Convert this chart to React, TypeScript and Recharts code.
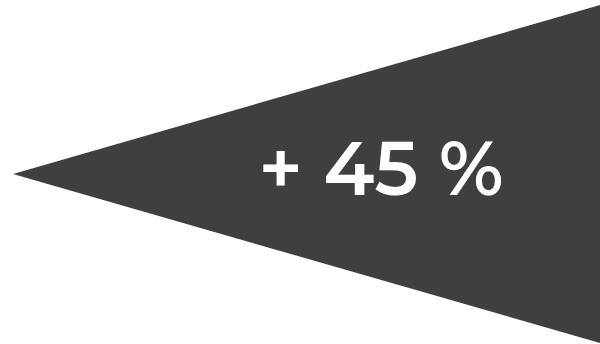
import React from "react";
import { AreaChart, Area, XAxis, YAxis } from "recharts";

const positions = [0, 1];
const lows = [0, -1];
const highs = [0, 1];
const labelText = "+ 45 %";

const data = positions.map((x, i) => ({ x, range: [lows[i], highs[i]] }));

export default function App() {
  return (
    <div style={{ position: "absolute", left: 0, top: 0, width: 600, height: 344 }}>
      <AreaChart width={600} height={344} data={data} margin={{ top: 5, right: 0, bottom: 1, left: 13 }}>
        <XAxis type="number" dataKey="x" domain={[0, 1]} hide />
        <YAxis type="number" domain={[-1, 1]} hide />
        <Area
          type="linear"
          dataKey="range"
          stroke="none"
          fill="#3f3f3f"
          fillOpacity={1}
          isAnimationActive={false}
          dot={false}
          activeDot={false}
        />
      </AreaChart>
      <div
        style={{
          position: "absolute",
          left: 381,
          top: 168,
          transform: "translate(-50%, -50%)",
          color: "#ffffff",
          fontFamily: "Montserrat, 'Open Sans', sans-serif",
          fontWeight: 600,
          fontSize: 75,
          lineHeight: 1,
          whiteSpace: "pre",
        }}
      >
        {labelText}
      </div>
    </div>
  );
}
